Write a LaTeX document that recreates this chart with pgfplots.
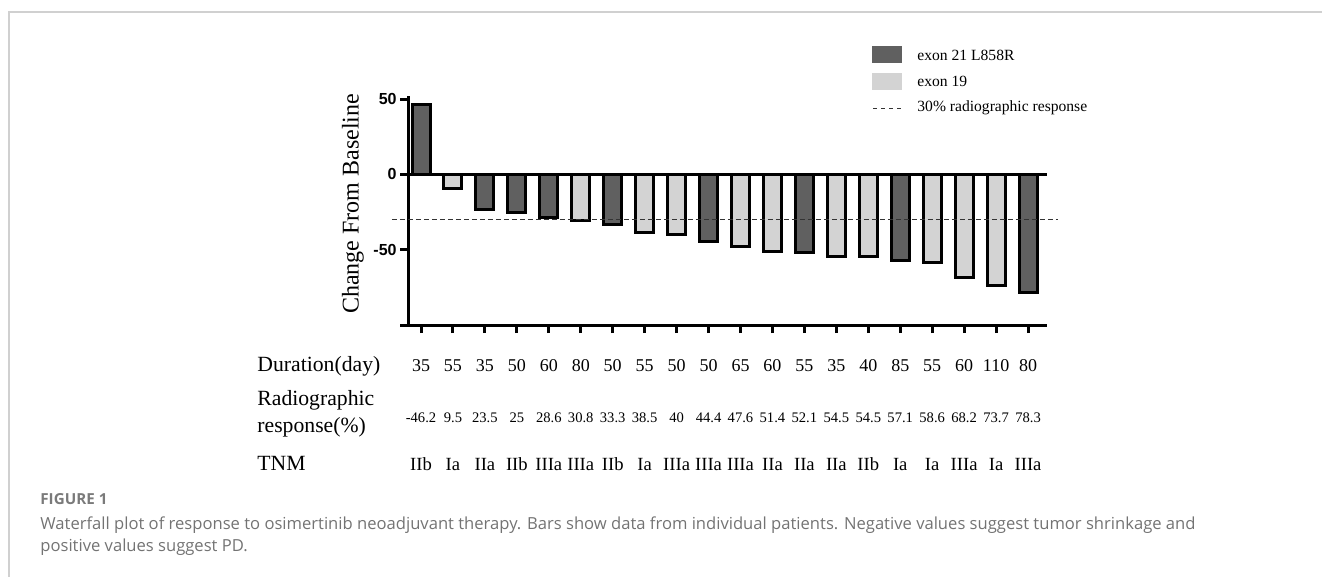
\documentclass[border=0pt]{standalone}
\usepackage{fontspec}
\setmainfont{Liberation Serif}
\newfontfamily\arialf{Liberation Sans}
\newfontfamily\capf{Open Sans}
\usepackage{pgfplots}
\pgfplotsset{compat=1.18}
\definecolor{darkbar}{HTML}{606060}
\definecolor{lightbar}{HTML}{D3D3D3}
\definecolor{framec}{HTML}{D0D0D0}
\definecolor{capc}{HTML}{737373}
\definecolor{capf}{HTML}{7A7A7A}
\begin{document}
\begin{tikzpicture}
\begin{scope}[x=0.5pt,y=-0.5pt]
\path[use as bounding box] (0,0) rectangle (1322,577);
\draw[framec, line width=1pt] (9,577) -- (9,12) -- (1322,12);
\end{scope}
\begin{axis}[at={(204pt,-162.5pt)}, anchor=south west, scale only axis,
  width=319.5pt, height=114.5pt,
  xmin=0.593, xmax=20.593, ymin=-100, ymax=52,
  axis x line=bottom, axis y line=left,
  axis line style={-, line width=1.5pt},
  xtick={1,...,20}, xticklabels={},
  ytick={-100,-50,0,50}, yticklabels={,-50,0,50},
  tick align=outside, major tick length=4pt,
  tick style={line width=1.5pt, black},
  yticklabel style={font=\arialf\bfseries\fontsize{8}{9}\selectfont, inner sep=1.5pt},
  /pgf/number format/assume math mode=true,
  ybar, bar width=9pt, clip=false]
\addplot[fill=darkbar, draw=black, line width=1.5pt, bar shift=0pt] coordinates {(1,46.2) (3,-23.5) (4,-25) (5,-28.6) (7,-33.3) (10,-44.4) (13,-52.1) (16,-57.1) (20,-78.3)};
\addplot[fill=lightbar, draw=black, line width=1.5pt, bar shift=0pt] coordinates {(2,-9.5) (6,-30.8) (8,-38.5) (9,-40) (11,-47.6) (12,-51.4) (14,-54.5) (15,-54.5) (17,-58.6) (18,-68.2) (19,-73.7)};
\draw[line width=1.5pt] (axis cs:0.593,0) -- (axis cs:20.593,0);
\draw[black!80, line width=0.5pt, dash pattern=on 2.5pt off 1.5pt] (axis cs:0.09,-30) -- (axis cs:20.94,-30);
\end{axis}
\begin{scope}[x=0.5pt,y=-0.5pt]
% y label
\node[rotate=90, font=\fontsize{12}{14}\selectfont, inner sep=0] at (353,204) {Change From Baseline};
% legend
\fill[darkbar] (872,46) rectangle (902,63);
\fill[lightbar] (872,73) rectangle (902,90);
\draw[black!80, line width=0.5pt, dash pattern=on 2pt off 2pt] (873,109) -- (902,109);
\begin{scope}[font=\fontsize{7.8}{9}\selectfont]
\node[anchor=west, inner sep=0] at (917,55) {exon 21 L858R};
\node[anchor=west, inner sep=0] at (917,81) {exon 19};
\node[anchor=west, inner sep=0] at (917,108) {30\% radiographic response};
\end{scope}
% table labels
\begin{scope}[font=\fontsize{10.85}{13}\selectfont]
\node[anchor=base west, inner sep=0] at (257,371.7) {Duration(day)};
\node[anchor=base west, inner sep=0] at (257,405) {Radiographic};
\node[anchor=base west, inner sep=0] at (257,432.7) {response(\%)};
\node[anchor=base west, inner sep=0] at (257,470) {TNM};
\end{scope}
\foreach \v [count=\i] in {35,55,35,50,60,80,50,55,50,50,65,60,55,35,40,85,55,60,110,80}
  \node[anchor=base, inner sep=0, font=\fontsize{9}{10}\selectfont] at ({421+(\i-1)*31.95},371.7) {\v};
\foreach \v [count=\i] in {-46.2,9.5,23.5,25,28.6,30.8,33.3,38.5,40,44.4,47.6,51.4,52.1,54.5,54.5,57.1,58.6,68.2,73.7,78.3}
  \node[anchor=base, inner sep=0, font=\fontsize{7.3}{8}\selectfont] at ({421+(\i-1)*31.95},422.3) {\v};
\foreach \v [count=\i] in {IIb,Ia,IIa,IIb,IIIa,IIIa,IIb,Ia,IIIa,IIIa,IIIa,IIa,IIa,IIa,IIb,Ia,Ia,IIIa,Ia,IIIa}
  \node[anchor=base, inner sep=0, font=\fontsize{9.3}{10}\selectfont] at ({421+(\i-1)*31.95},470) {\v};
% caption
\node[anchor=base west, inner sep=0, text=capf, font=\capf\bfseries\fontsize{7.6}{8}\selectfont] at (40,504.3) {FIGURE 1};
\node[anchor=base west, inner sep=0, text=capc, font=\capf\fontsize{8.3}{9}\selectfont] at (40,529.3) {Waterfall plot of response to osimertinib neoadjuvant therapy. Bars show data from individual patients. Negative values suggest tumor shrinkage and};
\node[anchor=base west, inner sep=0, text=capc, font=\capf\fontsize{8.3}{9}\selectfont] at (40,551.7) {positive values suggest PD.};
\end{scope}
\end{tikzpicture}
\end{document}
